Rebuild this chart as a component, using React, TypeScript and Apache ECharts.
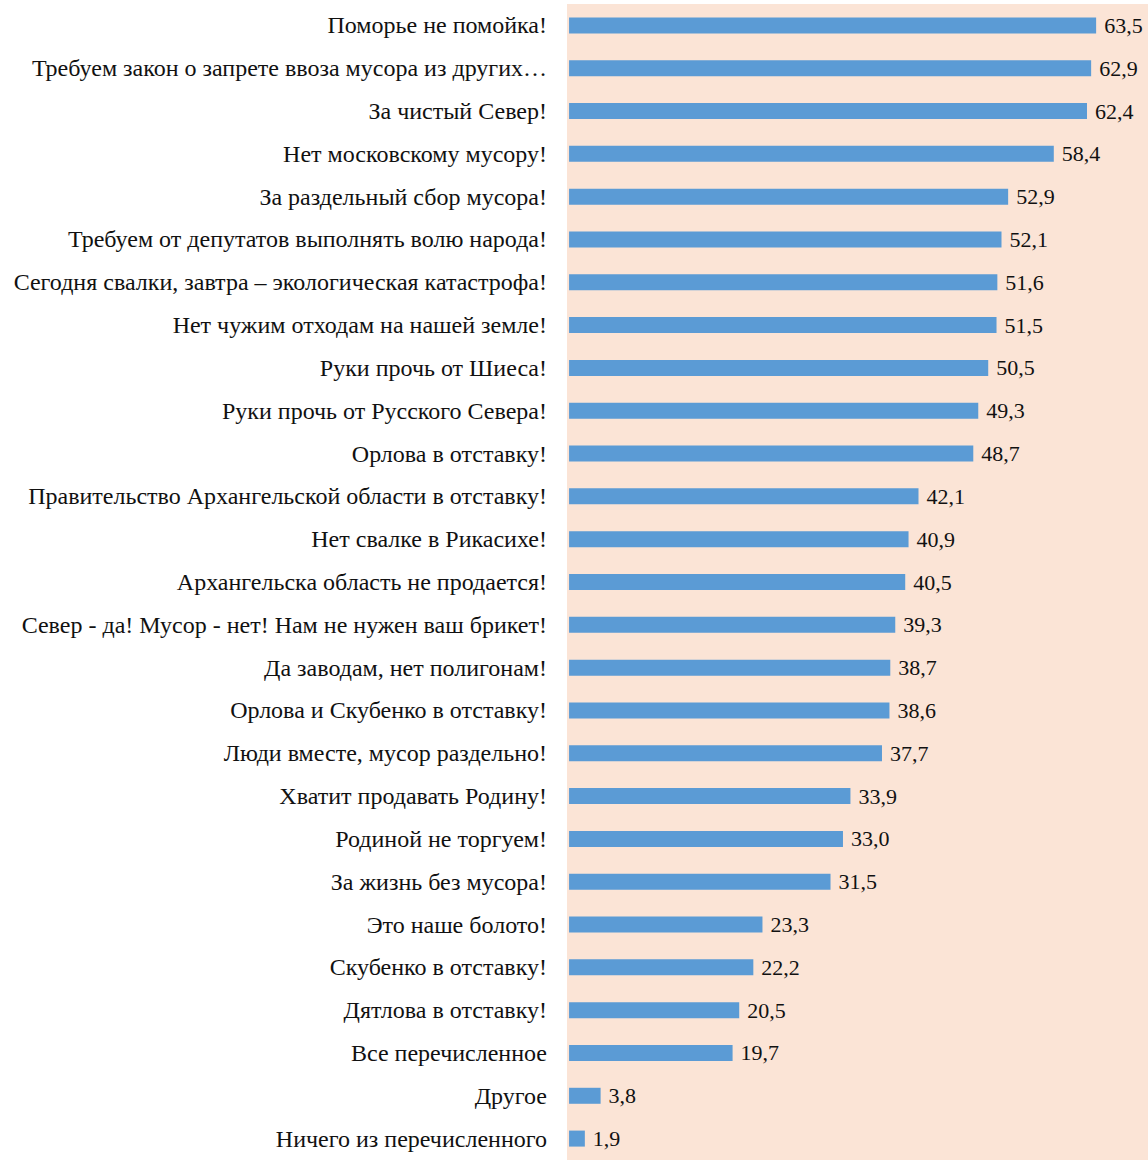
import React, { useEffect, useRef } from "react";
import * as echarts from "echarts";

const categories = [
  "Поморье не помойка!",
  "Требуем закон о запрете ввоза мусора из других…",
  "За чистый Север!",
  "Нет московскому мусору!",
  "За раздельный сбор мусора!",
  "Требуем от депутатов выполнять волю народа!",
  "Сегодня свалки, завтра – экологическая катастрофа!",
  "Нет чужим отходам на нашей земле!",
  "Руки прочь от Шиеса!",
  "Руки прочь от Русского Севера!",
  "Орлова в отставку!",
  "Правительство Архангельской области в отставку!",
  "Нет свалке в Рикасихе!",
  "Архангельска область не продается!",
  "Север - да! Мусор - нет! Нам не нужен ваш брикет!",
  "Да заводам, нет полигонам!",
  "Орлова и Скубенко в отставку!",
  "Люди вместе, мусор раздельно!",
  "Хватит продавать Родину!",
  "Родиной не торгуем!",
  "За жизнь без мусора!",
  "Это наше болото!",
  "Скубенко в отставку!",
  "Дятлова в отставку!",
  "Все перечисленное",
  "Другое",
  "Ничего из перечисленного",
];

const values = [
  63.5, 62.9, 62.4, 58.4, 52.9, 52.1, 51.6, 51.5, 50.5, 49.3, 48.7, 42.1, 40.9,
  40.5, 39.3, 38.7, 38.6, 37.7, 33.9, 33.0, 31.5, 23.3, 22.2, 20.5, 19.7, 3.8, 1.9,
];

export default function App() {
  const ref = useRef<HTMLDivElement>(null);
  useEffect(() => {
    if (!ref.current) return;
    const chart = echarts.init(ref.current, undefined, { renderer: "svg" });
    const font = "'Liberation Serif', 'Times New Roman', serif";
    chart.setOption({
      animation: false,
      grid: {
        left: 567,
        right: 0,
        top: 4,
        height: 1163,
        show: true,
        backgroundColor: "#FBE4D6",
        borderWidth: 0,
        containLabel: false,
      },
      xAxis: {
        type: "value",
        min: -0.25,
        max: 69.75,
        show: false,
      },
      yAxis: {
        type: "category",
        data: categories,
        inverse: true,
        axisLine: { show: false },
        axisTick: { show: false },
        splitLine: { show: false },
        axisLabel: {
          margin: 20,
          color: "#111111",
          fontFamily: font,
          fontSize: 24,
        },
      },
      series: [
        {
          type: "bar",
          data: values,
          barWidth: 16,
          itemStyle: { color: "#5B9BD5" },
          label: {
            show: true,
            position: "right",
            distance: 8,
            color: "#111111",
            fontFamily: font,
            fontSize: 22,
            formatter: (p: any) => p.value.toFixed(1).replace(".", ","),
          },
        },
      ],
    });
    return () => chart.dispose();
  }, []);
  return (
    <div
      ref={ref}
      style={{ position: "fixed", left: 0, top: 0, width: 1148, height: 1160, background: "#fff" }}
    />
  );
}
